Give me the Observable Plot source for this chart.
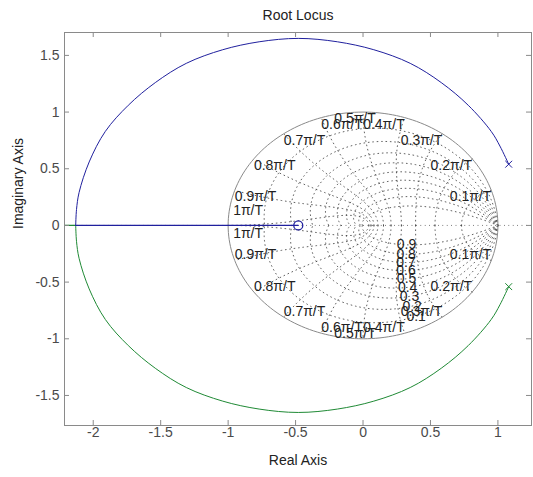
<!DOCTYPE html>
<html><head><meta charset="utf-8">
<script src="https://cdn.jsdelivr.net/npm/d3@7"></script>
<script src="https://cdn.jsdelivr.net/npm/@observablehq/plot@0.6"></script>
<style>body{margin:0;background:#fff}</style>
</head><body><div id="chart"></div>
<script>
// ---- data ----
const xTicks = [-2, -1.5, -1, -0.5, 0, 0.5, 1];
const yTicks = [-1.5, -1, -0.5, 0, 0.5, 1, 1.5];
const poleRe = [1.08, 1.08];
const poleIm = [0.54, -0.54];
const zeroRe = [-0.48];
const zeroIm = [0];
// branch 1 (blue): upper pole -> arc -> breakaway
const arc1Re = [1.08, 1.015, 0.95, 0.78, 0.58, 0.35, 0.08, -0.19, -0.48, -0.77, -1.04, -1.31, -1.54, -1.74, -1.91, -2.03, -2.105, -2.124, -2.13];
const arc1Im = [0.54, 0.70, 0.83, 1.06, 1.26, 1.43, 1.55, 1.62, 1.65, 1.62, 1.55, 1.43, 1.26, 1.06, 0.83, 0.56, 0.29, 0.14, 0];
// branch 1 on the real axis: breakaway -> zero
const axis1Re = [-2.13, -0.48];
const axis1Im = [0, 0];
// branch 2 (green): lower pole -> arc -> breakaway
const arc2Re = [1.08, 1.015, 0.95, 0.78, 0.58, 0.35, 0.08, -0.19, -0.48, -0.77, -1.04, -1.31, -1.54, -1.74, -1.91, -2.03, -2.105, -2.124, -2.13];
const arc2Im = [-0.54, -0.70, -0.83, -1.06, -1.26, -1.43, -1.55, -1.62, -1.65, -1.62, -1.55, -1.43, -1.26, -1.06, -0.83, -0.56, -0.29, -0.14, 0];
// branch 2 on the real axis: breakaway -> left edge
const axis2Re = [-2.13, -2.21];
const axis2Im = [0, 0];
// z-plane grid labels
const zetaVals = [0.1, 0.2, 0.3, 0.4, 0.5, 0.6, 0.7, 0.8, 0.9];
const zetaLabels = ["0.1", "0.2", "0.3", "0.4", "0.5", "0.6", "0.7", "0.8", "0.9"];
const wnK = [1, 2, 3, 4, 5, 6, 7, 8, 9, 10];
const wnLabels = ["0.1π/T", "0.2π/T", "0.3π/T", "0.4π/T", "0.5π/T", "0.6π/T", "0.7π/T", "0.8π/T", "0.9π/T", "1π/T"];

const blue = "#20209e", green = "#1f8a35", gridC = "#3a3a3a", grayC = "#8a8a8a";
const font = "Liberation Sans, Arial, Helvetica, sans-serif";

const pts = (re, im) => re.map((x, i) => ({x, y: im[i]}));
const arc1 = pts(arc1Re, arc1Im), arc2 = pts(arc2Re, arc2Im);
const ax1 = pts(axis1Re, axis1Im), ax2 = pts(axis2Re, axis2Im);
const poles = poleRe.map((x, i) => ({x, y: poleIm[i], c: i === 0 ? blue : green}));
const zeros = pts(zeroRe, zeroIm);

// zgrid geometry (grid, like MATLAB's zgrid)
const gridLines = [];
zetaVals.forEach(z => {
  const k = z / Math.sqrt(1 - z * z);
  for (const s of [1, -1]) {
    gridLines.push(...d3.range(0, 121).map(i => { const t = Math.PI * i / 120, r = Math.exp(-k * t); return {x: r * Math.cos(t), y: s * r * Math.sin(t), id: "z" + z + s}; }));
  }
});
wnK.forEach(kk => {
  const wn = kk * Math.PI / 10;
  for (const s of [1, -1]) {
    gridLines.push(...d3.range(0, 61).map(i => { const p = (Math.PI / 2) * i / 60, r = Math.exp(-wn * Math.cos(p)), a = wn * Math.sin(p); return {x: r * Math.cos(a), y: s * r * Math.sin(a), id: "w" + kk + s}; }));
  }
});
const circle = d3.range(0, 201).map(i => ({x: Math.cos(2 * Math.PI * i / 200), y: Math.sin(2 * Math.PI * i / 200)}));

const zetaLab = zetaVals.map((z, i) => { const wn = 1.12, r = Math.exp(-z * wn), a = wn * Math.sqrt(1 - z * z); return {x: r * Math.cos(a), y: -r * Math.sin(a), t: zetaLabels[i]}; });
const wnLab = [];
wnK.forEach((kk, i) => {
  const a = kk * Math.PI / 10;
  for (const s of [1, -1]) wnLab.push({x: Math.cos(a), y: s * Math.sin(a), t: wnLabels[i], k: kk, s});
});
const anchorFor = k => k < 5 ? "end" : k > 5 ? "start" : "middle";

const W = 533, H = 477, mL = 64, mR = 2, mT = 32, mB = 52;
const fh = H - mT - mB, fw = W - mL - mR;
const txt = {fontSize: 14, fill: "#222"};

const plot = Plot.plot({
  width: W, height: H,
  marginLeft: mL, marginRight: mR, marginTop: mT, marginBottom: mB,
  x: {domain: [-2.213, 1.249]},
  y: {domain: [-1.765, 1.702]},
  style: {fontFamily: font, fontSize: "14px", background: "#fff"},
  marks: [
    Plot.line(gridLines, {x: "x", y: "y", z: "id", stroke: gridC, strokeWidth: 0.8, strokeDasharray: "0.8,3.6"}),
    Plot.ruleY([0], {stroke: gridC, strokeWidth: 0.8, strokeDasharray: "0.8,3.6"}),
    Plot.line(circle, {x: "x", y: "y", stroke: grayC, strokeWidth: 1}),
    ...["start", "end", "middle"].flatMap(ta => [
      Plot.text(wnLab.filter(d => d.s > 0 && d.k !== 10 && anchorFor(d.k) === ta), {x: "x", y: "y", text: "t", textAnchor: ta, lineAnchor: "top", dx: ta === "middle" ? -8 : 0, dy: 1, ...txt}),
      Plot.text(wnLab.filter(d => d.s < 0 && d.k !== 10 && anchorFor(d.k) === ta), {x: "x", y: "y", text: "t", textAnchor: ta, lineAnchor: "bottom", dx: ta === "middle" ? -8 : 0, dy: -1, ...txt})
    ]),
    Plot.text(wnLab.filter(d => d.k === 10 && d.s > 0), {x: "x", y: "y", text: "t", textAnchor: "start", lineAnchor: "bottom", dx: 5, dy: -10, ...txt}),
    Plot.text(wnLab.filter(d => d.k === 10 && d.s < 0), {x: "x", y: "y", text: "t", textAnchor: "start", lineAnchor: "top", dx: 5, dy: 3, ...txt}),
    Plot.text(zetaLab, {x: "x", y: "y", text: "t", textAnchor: "middle", ...txt}),
    Plot.line(arc2, {x: "x", y: "y", stroke: green, strokeWidth: 1, curve: "catmull-rom"}),
    Plot.line(ax2, {x: "x", y: "y", stroke: green, strokeWidth: 1.2, clip: true}),
    Plot.line(arc1, {x: "x", y: "y", stroke: blue, strokeWidth: 1, curve: "catmull-rom"}),
    Plot.line(ax1, {x: "x", y: "y", stroke: blue, strokeWidth: 1.2}),
    Plot.dot(zeros, {x: "x", y: "y", r: 4.5, stroke: blue, fill: "none", strokeWidth: 1.3}),
    Plot.dot(poles, {x: "x", y: "y", symbol: "times", r: 3.2, stroke: "c", strokeWidth: 1}),
    Plot.frame({stroke: grayC}),
    Plot.tickX(xTicks, {x: d => d, insetTop: fh - 5, stroke: grayC}),
    Plot.tickX(xTicks, {x: d => d, insetBottom: fh - 5, stroke: grayC}),
    Plot.tickY(yTicks, {y: d => d, insetRight: fw - 5, stroke: grayC}),
    Plot.tickY(yTicks, {y: d => d, insetLeft: fw - 5, stroke: grayC}),
    Plot.axisX(xTicks, {tickSize: 0, tickPadding: 2, tickFormat: d => String(d), label: null, fill: "#4a4a4a", fontSize: 14}),
    Plot.axisY(yTicks, {tickSize: 0, tickPadding: 5, tickFormat: d => String(d), label: null, fill: "#4a4a4a", fontSize: 14}),
    Plot.text(["Root Locus"], {text: d => d, frameAnchor: "top", dy: -22, ...txt}),
    Plot.text(["Real Axis"], {text: d => d, frameAnchor: "bottom", dy: 39, ...txt}),
    Plot.text(["Imaginary Axis"], {text: d => d, frameAnchor: "left", dx: -46, rotate: -90, ...txt})
  ]
});
document.getElementById("chart").appendChild(plot);
</script>
</body></html>
